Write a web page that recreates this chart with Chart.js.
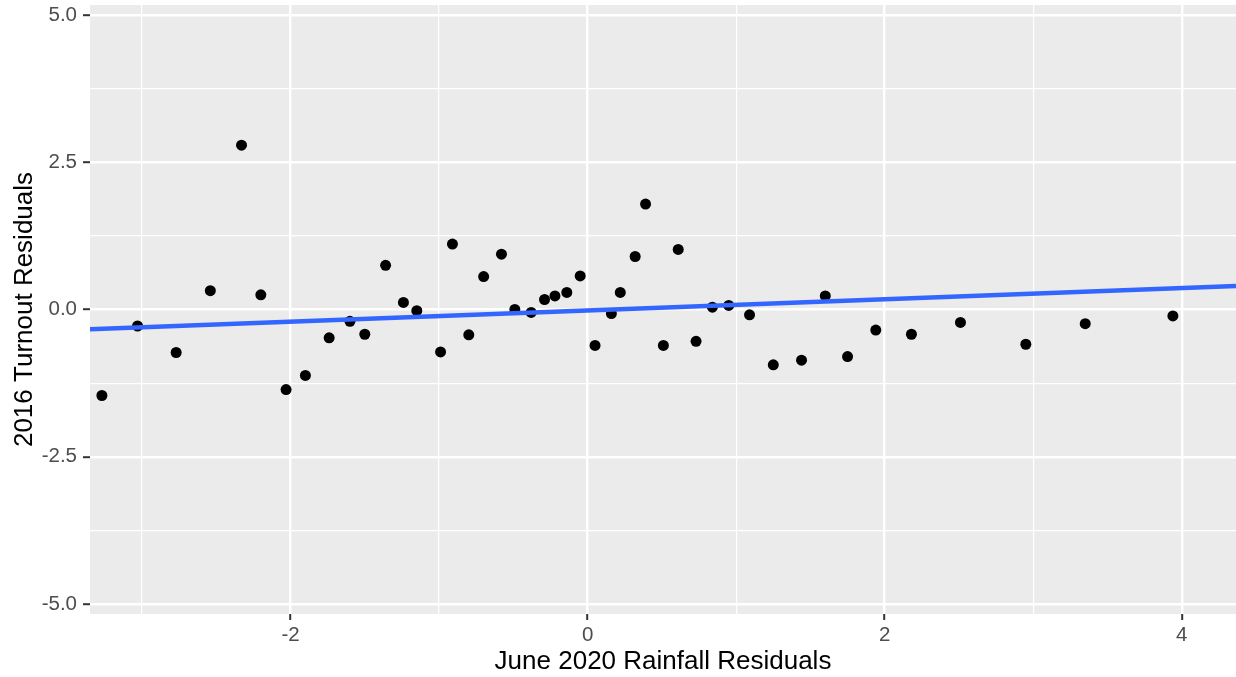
<!DOCTYPE html>
<html lang="en">
<head>
<meta charset="UTF-8">
<title>2016 Turnout vs June 2020 Rainfall Residuals</title>
<script src="https://cdn.jsdelivr.net/npm/chart.js"></script>
<style>
  html, body { margin: 0; padding: 0; background: #ffffff; }
  #wrap { width: 1236px; height: 677px; }
</style>
</head>
<body>
<div id="wrap"><canvas id="chart" width="1236" height="677"></canvas></div>
<script>
  // residuals
  const rainfallResid = [
    -3.27, -3.03, -2.77, -2.54, -2.33, -2.20, -2.03, -1.90, -1.74, -1.60,
    -1.50, -1.36, -1.24, -1.15, -0.99, -0.91, -0.80, -0.70, -0.58, -0.49,
    -0.38, -0.29, -0.22, -0.14, -0.05, 0.05, 0.16, 0.22, 0.32, 0.39,
    0.51, 0.61, 0.73, 0.84, 0.95, 1.09, 1.25, 1.44, 1.60, 1.75,
    1.94, 2.18, 2.51, 2.95, 3.35, 3.94
  ];
  const turnoutResid = [
    -1.46, -0.28, -0.73, 0.32, 2.79, 0.25, -1.36, -1.12, -0.48, -0.20,
    -0.42, 0.75, 0.12, -0.02, -0.72, 1.11, -0.43, 0.56, 0.94, 0.00,
    -0.05, 0.17, 0.23, 0.29, 0.57, -0.61, -0.07, 0.29, 0.90, 1.79,
    -0.61, 1.02, -0.54, 0.04, 0.07, -0.09, -0.94, -0.86, 0.23, -0.80,
    -0.35, -0.42, -0.22, -0.59, -0.24, -0.11
  ];

  // fitted lm line, ends at the panel edges
  const fitX = [-3.35, 4.365];
  const fitY = [-0.336, 0.400];

  const xMajor = [-2, 0, 2, 4];
  const xMinor = [-3, -1, 1, 3];
  const xTickLabels = ['-2', '0', '2', '4'];
  const yMajor = [-5, -2.5, 0, 2.5, 5];
  const yMinor = [-3.75, -1.25, 1.25, 3.75];
  const yTickLabels = ['-5.0', '-2.5', '0.0', '2.5', '5.0'];

  const FONT = '"Liberation Sans", Arial, Helvetica, sans-serif';

  const points = rainfallResid.map((x, i) => ({ x: x, y: turnoutResid[i] }));
  const fitLine = fitX.map((x, i) => ({ x: x, y: fitY[i] }));

  const panelBg = {
    id: 'panelBg',
    beforeDraw(chart) {
      const { ctx, chartArea: a } = chart;
      ctx.save();
      ctx.fillStyle = '#EBEBEB';
      ctx.fillRect(a.left, a.top, a.right - a.left, a.bottom - a.top);
      ctx.restore();
    }
  };

  function isMajor(list, v) {
    return list.some(m => Math.abs(m - v) < 1e-9);
  }

  new Chart(document.getElementById('chart'), {
    type: 'scatter',
    data: {
      datasets: [
        {
          data: fitLine,
          showLine: true,
          borderColor: '#3366FF',
          borderWidth: 4.5,
          pointRadius: 0,
          pointHoverRadius: 0,
          fill: false
        },
        {
          data: points,
          backgroundColor: '#000000',
          borderWidth: 0,
          pointRadius: 5.5,
          pointHoverRadius: 5.5
        }
      ]
    },
    options: {
      responsive: false,
      animation: false,
      devicePixelRatio: 1,
      layout: {
        autoPadding: false,
        padding: { top: 5, right: 0, bottom: 0, left: 0 }
      },
      plugins: {
        legend: { display: false },
        tooltip: { enabled: false }
      },
      scales: {
        x: {
          type: 'linear',
          min: -3.35,
          max: 4.365,
          afterBuildTicks: s => {
            s.ticks = xMinor.concat(xMajor).sort((a, b) => a - b).map(v => ({ value: v }));
          },
          afterFit: s => {
            s.height = 63;
            s.paddingLeft = 0;
            s.paddingRight = 0;
          },
          border: { display: false },
          grid: {
            color: '#FFFFFF',
            lineWidth: c => isMajor(xMajor, c.tick.value) ? 2.4 : 1.2,
            tickLength: 6,
            tickWidth: 2,
            tickColor: c => isMajor(xMajor, c.tick.value) ? '#333333' : 'rgba(0,0,0,0)'
          },
          ticks: {
            autoSkip: false,
            maxRotation: 0,
            padding: 3,
            color: '#4D4D4D',
            font: { family: FONT, size: 20.5 },
            callback: v => {
              const i = xMajor.findIndex(m => Math.abs(m - v) < 1e-9);
              return i >= 0 ? xTickLabels[i] : '';
            }
          },
          title: {
            display: true,
            text: 'June 2020 Rainfall Residuals',
            color: '#000000',
            font: { family: FONT, size: 26 },
            padding: { top: 0, bottom: 0 }
          }
        },
        y: {
          type: 'linear',
          min: -5.17,
          max: 5.17,
          afterBuildTicks: s => {
            s.ticks = yMinor.concat(yMajor).sort((a, b) => a - b).map(v => ({ value: v }));
          },
          afterFit: s => {
            s.width = 90;
            s.paddingTop = 0;
            s.paddingBottom = 0;
          },
          border: { display: false },
          grid: {
            color: '#FFFFFF',
            lineWidth: c => isMajor(yMajor, c.tick.value) ? 2.4 : 1.2,
            tickLength: 7,
            tickWidth: 2,
            tickColor: c => isMajor(yMajor, c.tick.value) ? '#333333' : 'rgba(0,0,0,0)'
          },
          ticks: {
            autoSkip: false,
            padding: 6,
            color: '#4D4D4D',
            font: { family: FONT, size: 20.5 },
            callback: v => {
              const i = yMajor.findIndex(m => Math.abs(m - v) < 1e-9);
              return i >= 0 ? yTickLabels[i] : '';
            }
          },
          title: {
            display: true,
            text: '2016 Turnout Residuals',
            color: '#000000',
            font: { family: FONT, size: 26 },
            padding: { top: 9, bottom: 0 }
          }
        }
      }
    },
    plugins: [panelBg]
  });
</script>
</body>
</html>
